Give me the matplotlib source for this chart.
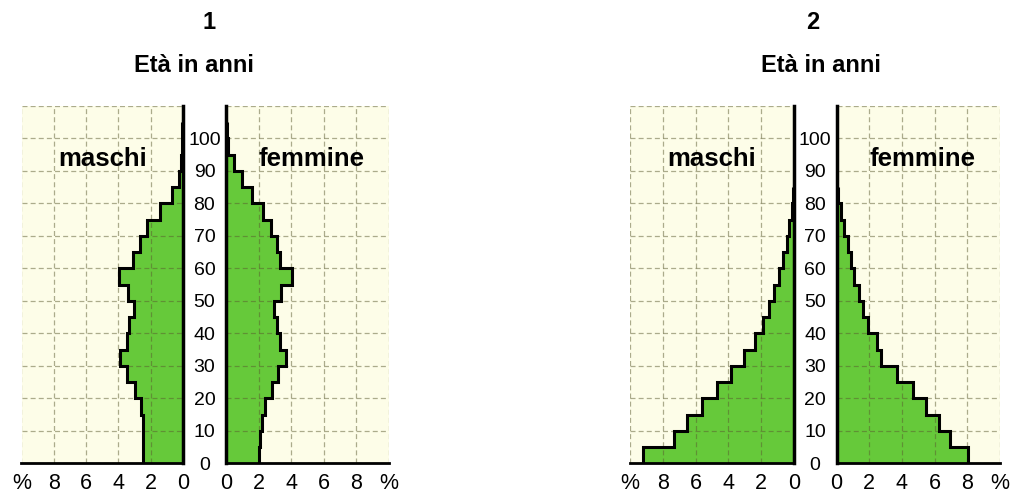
import numpy as np
import matplotlib.pyplot as plt

plt.rcParams['font.family'] = ['Liberation Sans', 'DejaVu Sans']

# age classes (5-year bins), edges in years
edges1 = [0, 5, 10, 15, 20, 25, 30, 35, 40, 45, 50, 55, 60, 65, 70, 75, 80, 85, 90, 95, 100, 105]
edges2 = [0, 5, 10, 15, 20, 25, 30, 35, 40, 45, 50, 55, 60, 65, 70, 75, 80, 85]

# pyramid 1 (% of population)
maschi1 = [2.5, 2.5, 2.5, 2.6, 3.0, 3.45, 3.9, 3.45, 3.35, 3.05, 3.4,
           3.95, 3.1, 2.65, 2.25, 1.45, 0.7, 0.25, 0.15, 0.05, 0.05]
femmine1 = [2.05, 2.1, 2.2, 2.4, 2.85, 3.2, 3.7, 3.35, 3.15, 2.95, 3.4,
            4.05, 3.35, 3.15, 2.75, 2.25, 1.6, 1.0, 0.5, 0.1, 0.08]

# pyramid 2
maschi2 = [9.2, 7.3, 6.5, 5.6, 4.7, 3.85, 3.05, 2.4, 1.9, 1.5, 1.2,
           0.9, 0.65, 0.45, 0.3, 0.15, 0.05]
femmine2 = [8.05, 6.95, 6.25, 5.45, 4.7, 3.72, 2.72, 2.45, 1.92, 1.62, 1.38,
            1.08, 0.86, 0.68, 0.48, 0.28, 0.09]

age_ticks = [0, 10, 20, 30, 40, 50, 60, 70, 80, 90, 100, 110]
age_labels = ['0', '10', '20', '30', '40', '50', '60', '70', '80', '90', '100', '']
pct_ticks = [0, 2, 4, 6, 8, 10]
pct_labels = ['0', '2', '4', '6', '8', '%']

green = '#66c93a'
cream = '#fdfde8'

W, H = 1011, 493
fig = plt.figure(figsize=(W / 100, H / 100), dpi=100)
fig.patch.set_facecolor('white')

ybot, ytop = 463.3, 105.8


def rect(x0, x1):
    return [x0 / W, 1 - ybot / H, (x1 - x0) / W, (ybot - ytop) / H]


def draw_side(ax, values, edges, male, label):
    ax.set_facecolor(cream)
    ax.stairs(values, edges, orientation='horizontal', baseline=0,
              fill=True, color=green, lw=0, zorder=1)
    ax.stairs(values, edges, orientation='horizontal', baseline=None,
              color='black', lw=2.2, zorder=3)
    ax.set_ylim(0, 110)
    if male:
        ax.set_xlim(10, 0)
    else:
        ax.set_xlim(0, 10)
    ax.set_xticks(pct_ticks)
    ax.set_xticklabels(pct_labels)
    ax.set_yticks(age_ticks)
    ax.grid(True, color='#5a5a30', alpha=0.5, linestyle=(0, (4, 2.5)), lw=0.9)
    ax.set_axisbelow(False)
    ax.tick_params(length=0)
    ax.tick_params(axis='x', labelsize=15.5, pad=7)
    for s in ['top', 'left', 'right', 'bottom']:
        ax.spines[s].set_visible(False)
    ax.spines['bottom'].set_visible(True)
    ax.spines['bottom'].set_linewidth(2)
    inner = 'right' if male else 'left'
    ax.spines[inner].set_visible(True)
    ax.spines[inner].set_linewidth(2.5)
    ax.spines['bottom'].set_zorder(4)
    ax.spines[inner].set_zorder(4)
    if male:
        ax.set_yticklabels([])
    else:
        ax.set_yticklabels(age_labels)
        ax.tick_params(axis='y', labelsize=14, pad=15.5)
        for t in ax.get_yticklabels():
            t.set_ha('center')
    ax.text(5.0 if male else 5.25, 93.5, label, ha='center', va='center',
            fontsize=18.5, fontweight='bold', zorder=5)


ax1m = fig.add_axes(rect(21.5, 183))
ax1f = fig.add_axes(rect(226, 388.5))
ax2m = fig.add_axes(rect(630, 794))
ax2f = fig.add_axes(rect(836.5, 1000))

draw_side(ax1m, maschi1, edges1, True, 'maschi')
draw_side(ax1f, femmine1, edges1, False, 'femmine')
draw_side(ax2m, maschi2, edges2, True, 'maschi')
draw_side(ax2f, femmine2, edges2, False, 'femmine')

fig.text(209 / W, 1 - 22.7 / H, '1', ha='center', va='center',
         fontsize=17, fontweight='bold')
fig.text(193.5 / W, 1 - 66 / H, 'Età in anni', ha='center', va='center',
         fontsize=17, fontweight='bold')
fig.text(813 / W, 1 - 22.7 / H, '2', ha='center', va='center',
         fontsize=17, fontweight='bold')
fig.text(821 / W, 1 - 66 / H, 'Età in anni', ha='center', va='center',
         fontsize=17, fontweight='bold')

fig.savefig('out.png', dpi=100)
